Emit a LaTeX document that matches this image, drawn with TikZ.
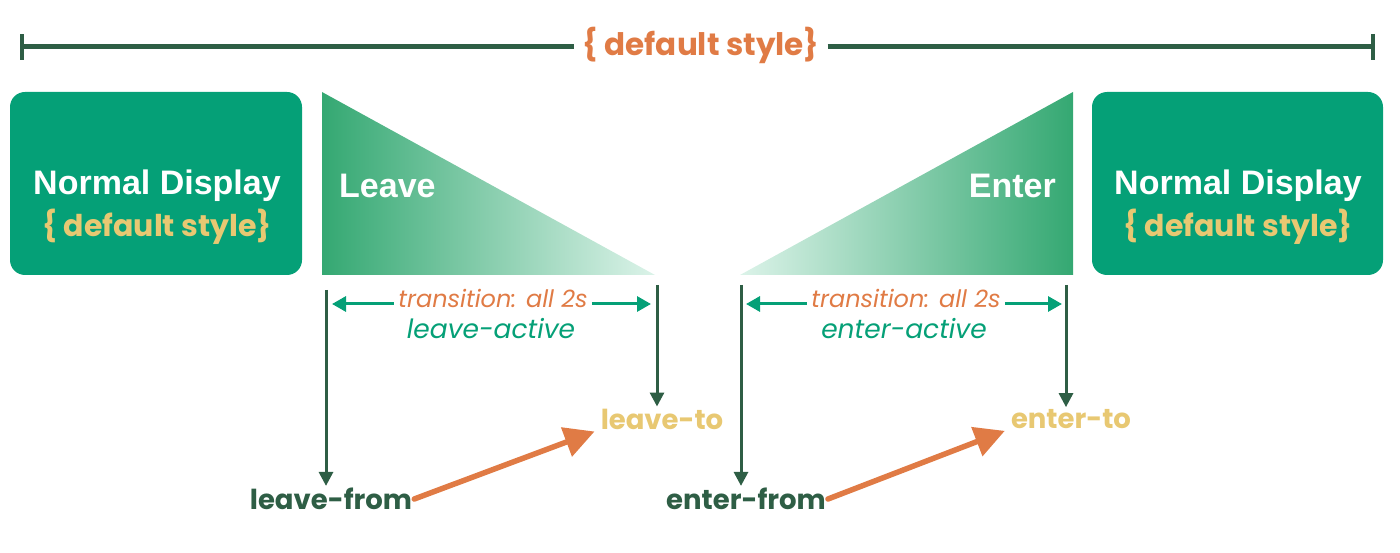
\documentclass[tikz,border=0pt]{standalone}
\usepackage{fontspec}
\setmainfont{Liberation Sans}
\newfontfamily\pop{Poppins}
\usetikzlibrary{arrows.meta}
\definecolor{teal}{RGB}{5,160,119}
\definecolor{dkgreen}{RGB}{46,94,69}
\definecolor{orng}{RGB}{224,123,69}
\definecolor{yel}{RGB}{232,200,114}
\definecolor{gdark}{RGB}{52,168,114}
\definecolor{glight}{RGB}{220,243,233}
\tikzset{
  box/.style={fill=teal, rounded corners=15pt, inner sep=0pt},
  boxtitle/.style={text=white, font=\fontsize{34}{36}\selectfont\bfseries},
  boxsub/.style={text=yel, font=\pop\fontsize{30}{32}\selectfont\bfseries},
  tritxt/.style={text=white, font=\fontsize{34}{36}\selectfont\bfseries},
  trans/.style={text=orng, font=\pop\fontsize{24}{26}\selectfont\itshape, inner sep=4pt},
  active/.style={text=teal, font=\pop\fontsize{26.5}{28}\selectfont\itshape},
  state/.style={font=\pop\fontsize{27.5}{30}\selectfont\bfseries, inner sep=2pt},
  vline/.style={draw=dkgreen, line width=3pt, -{Triangle[length=14pt,width=14pt]}},
  harrow/.style={draw=teal, line width=3pt},
  oarrow/.style={draw=orng, line width=5.5pt, line cap=round, -{Triangle[length=30pt,width=30pt]}},
  topbar/.style={draw=dkgreen, line width=5pt},
}
\begin{document}
\begin{tikzpicture}[x=1pt,y=-1pt]
\useasboundingbox (0,0) rectangle (1400,553);
% top bar
\node[text=orng, font=\pop\fontsize{31}{33}\selectfont\bfseries, inner sep=8pt] (top) at (701,45) {\{ default style\}};
\coordinate (tl) at (20,47);
\coordinate (tr) at (1375,47);
\draw[topbar, {Bar[width=26pt,line width=4pt]}-] (tl) -- (top.west |- tl);
\draw[topbar, -{Bar[width=26pt,line width=4pt]}] (top.east |- tr) -- (tr);
% boxes
\path[box] (10,92) rectangle (302,275);
\path[box] (1092,92) rectangle (1383,275);
\node[boxtitle] (nd1) at (157,186) {Normal Display};
\node[boxsub] (ds1) at (157,227) {\{ default style\}};
\node[boxtitle] (nd2) at (1238,186) {Normal Display};
\node[boxsub] (ds2) at (1238,227) {\{ default style\}};
% triangles
\shade[left color=gdark, right color=glight] (322,92) -- (322,275) -- (655,275) -- cycle;
\shade[left color=glight, right color=gdark] (740,275) -- (1073,92) -- (1073,275) -- cycle;
\node[tritxt, anchor=west, inner sep=0pt] (leave) at (339,186) {Leave};
\node[tritxt, anchor=east, inner sep=0pt] (enter) at (1056,186) {Enter};
% leave states
\node[state, text=dkgreen] (lfrom) at (331,499) {leave-from};
\node[state, text=yel] (lto) at (662,419) {leave-to};
\node[trans] (lt) at (493,298) {transition: all 2s};
\node[active] (la) at (491,329) {leave-active};
\coordinate (l1top) at (326,290);
\coordinate (l2top) at (657,285);
\coordinate (lha) at (332,304);
\coordinate (lhb) at (651,304);
\draw[vline] (l1top) -- (l1top |- lfrom.north);
\draw[vline] (l2top) -- (l2top |- lto.north);
\draw[harrow, {Triangle[length=14pt,width=15pt]}-] (lha) -- (lt.west |- lha);
\draw[harrow, -{Triangle[length=14pt,width=15pt]}] (lt.east |- lhb) -- (lhb);
\draw[oarrow] (lfrom.east) -- ([xshift=-4pt]lto.south west);
% enter states
\node[state, text=dkgreen] (efrom) at (746,499) {enter-from};
\node[state, text=yel] (eto) at (1071,419) {enter-to};
\node[trans] (et) at (906,298) {transition: all 2s};
\node[active] (ea) at (904,329) {enter-active};
\coordinate (e1top) at (741,285);
\coordinate (e2top) at (1066,285);
\coordinate (eha) at (746,304);
\coordinate (ehb) at (1062,304);
\draw[vline] (e1top) -- (e1top |- efrom.north);
\draw[vline] (e2top) -- (e2top |- eto.north);
\draw[harrow, {Triangle[length=14pt,width=15pt]}-] (eha) -- (et.west |- eha);
\draw[harrow, -{Triangle[length=14pt,width=15pt]}] (et.east |- ehb) -- (ehb);
\draw[oarrow] (efrom.east) -- ([xshift=-4pt]eto.south west);
\end{tikzpicture}
\end{document}
